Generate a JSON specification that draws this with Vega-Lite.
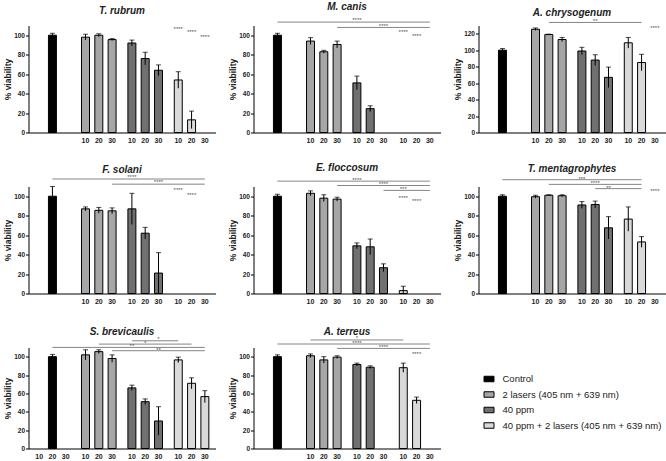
{
"$schema": "https://vega.github.io/schema/vega-lite/v6.json",
"padding": {"left": 3.5, "top": 1.5, "right": 0, "bottom": 0},
"bounds": "flush",
"columns": 3,
"spacing": {"row": 54, "column": 38},
"datasets": {
"bars": [
{"p":"Tr","g":"C","d":20,"v":100,"lo":98,"hi":102},
{"p":"Tr","g":"L","d":10,"v":98,"lo":95,"hi":101},
{"p":"Tr","g":"L","d":20,"v":100,"lo":98.5,"hi":101.5},
{"p":"Tr","g":"L","d":30,"v":95.5,"lo":94.5,"hi":96.5},
{"p":"Tr","g":"P","d":10,"v":92,"lo":89,"hi":95},
{"p":"Tr","g":"P","d":20,"v":76,"lo":69.5,"hi":82.5},
{"p":"Tr","g":"P","d":30,"v":64,"lo":58.5,"hi":69.5},
{"p":"Tr","g":"LP","d":10,"v":54,"lo":45.5,"hi":62.5},
{"p":"Tr","g":"LP","d":20,"v":13,"lo":4,"hi":22},
{"p":"Mc","g":"C","d":20,"v":100,"lo":98,"hi":102},
{"p":"Mc","g":"L","d":10,"v":94,"lo":90.5,"hi":97.5},
{"p":"Mc","g":"L","d":20,"v":83,"lo":81.5,"hi":84.5},
{"p":"Mc","g":"L","d":30,"v":90.5,"lo":87,"hi":94},
{"p":"Mc","g":"P","d":10,"v":51,"lo":44,"hi":58},
{"p":"Mc","g":"P","d":20,"v":24.5,"lo":21.5,"hi":27.5},
{"p":"Ac","g":"C","d":20,"v":100,"lo":98,"hi":102},
{"p":"Ac","g":"L","d":10,"v":125.5,"lo":124,"hi":127},
{"p":"Ac","g":"L","d":20,"v":119,"lo":118.5,"hi":119.5},
{"p":"Ac","g":"L","d":30,"v":113,"lo":110.5,"hi":115.5},
{"p":"Ac","g":"P","d":10,"v":99,"lo":94.5,"hi":103.5},
{"p":"Ac","g":"P","d":20,"v":88,"lo":81.5,"hi":94.5},
{"p":"Ac","g":"P","d":30,"v":67,"lo":54.5,"hi":79.5},
{"p":"Ac","g":"LP","d":10,"v":109,"lo":102.5,"hi":115.5},
{"p":"Ac","g":"LP","d":20,"v":85,"lo":75,"hi":95},
{"p":"Fs","g":"C","d":20,"v":100,"lo":90,"hi":110},
{"p":"Fs","g":"L","d":10,"v":87,"lo":85,"hi":89},
{"p":"Fs","g":"L","d":20,"v":85.5,"lo":82.5,"hi":88.5},
{"p":"Fs","g":"L","d":30,"v":85,"lo":82,"hi":88},
{"p":"Fs","g":"P","d":10,"v":87,"lo":71,"hi":103},
{"p":"Fs","g":"P","d":20,"v":62,"lo":56,"hi":68},
{"p":"Fs","g":"P","d":30,"v":21,"lo":0,"hi":42},
{"p":"Ef","g":"C","d":20,"v":100,"lo":98,"hi":102},
{"p":"Ef","g":"L","d":10,"v":103,"lo":100.5,"hi":105.5},
{"p":"Ef","g":"L","d":20,"v":98,"lo":94.5,"hi":101.5},
{"p":"Ef","g":"L","d":30,"v":97,"lo":95,"hi":99},
{"p":"Ef","g":"P","d":10,"v":49,"lo":46,"hi":52},
{"p":"Ef","g":"P","d":20,"v":48,"lo":40,"hi":56},
{"p":"Ef","g":"P","d":30,"v":26.5,"lo":22.5,"hi":30.5},
{"p":"Ef","g":"LP","d":10,"v":3,"lo":0,"hi":7.5},
{"p":"Tm","g":"C","d":20,"v":100,"lo":98.5,"hi":101.5},
{"p":"Tm","g":"L","d":10,"v":99.5,"lo":98,"hi":101},
{"p":"Tm","g":"L","d":20,"v":101,"lo":100.5,"hi":101.5},
{"p":"Tm","g":"L","d":30,"v":100.5,"lo":99.5,"hi":101.5},
{"p":"Tm","g":"P","d":10,"v":91,"lo":87.5,"hi":94.5},
{"p":"Tm","g":"P","d":20,"v":91.5,"lo":88,"hi":95},
{"p":"Tm","g":"P","d":30,"v":67.5,"lo":56,"hi":79},
{"p":"Tm","g":"LP","d":10,"v":76.5,"lo":64,"hi":89},
{"p":"Tm","g":"LP","d":20,"v":53,"lo":47.5,"hi":58.5},
{"p":"Sb","g":"C","d":20,"v":100,"lo":97.5,"hi":102.5},
{"p":"Sb","g":"L","d":10,"v":102,"lo":96.5,"hi":107.5},
{"p":"Sb","g":"L","d":20,"v":105.5,"lo":103.5,"hi":107.5},
{"p":"Sb","g":"L","d":30,"v":98,"lo":94,"hi":102},
{"p":"Sb","g":"P","d":10,"v":66,"lo":63,"hi":69},
{"p":"Sb","g":"P","d":20,"v":51,"lo":48,"hi":54},
{"p":"Sb","g":"P","d":30,"v":30,"lo":14.5,"hi":45.5},
{"p":"Sb","g":"LP","d":10,"v":96.5,"lo":93.5,"hi":99.5},
{"p":"Sb","g":"LP","d":20,"v":71,"lo":65,"hi":77},
{"p":"Sb","g":"LP","d":30,"v":56.5,"lo":50,"hi":63},
{"p":"At","g":"C","d":20,"v":100,"lo":98,"hi":102},
{"p":"At","g":"L","d":10,"v":101,"lo":99,"hi":103},
{"p":"At","g":"L","d":20,"v":96.5,"lo":93,"hi":100},
{"p":"At","g":"L","d":30,"v":99.5,"lo":98,"hi":101},
{"p":"At","g":"P","d":10,"v":91.5,"lo":90,"hi":93},
{"p":"At","g":"P","d":20,"v":88.5,"lo":87,"hi":90},
{"p":"At","g":"LP","d":10,"v":88,"lo":83,"hi":93},
{"p":"At","g":"LP","d":20,"v":52.5,"lo":49,"hi":56}
],
"sig": [
{"p":"Mc","id":"a","g":"C","d":20,"y":113.5},{"p":"Mc","id":"a","g":"LP","d":30,"y":113.5},
{"p":"Mc","id":"b","g":"L","d":30,"y":108},{"p":"Mc","id":"b","g":"LP","d":30,"y":108},
{"p":"Ac","id":"a","g":"L","d":20,"y":133.7},{"p":"Ac","id":"a","g":"LP","d":20,"y":133.7},
{"p":"Fs","id":"a","g":"C","d":20,"y":117.7},{"p":"Fs","id":"a","g":"LP","d":30,"y":117.7},
{"p":"Fs","id":"b","g":"L","d":30,"y":112.4},{"p":"Fs","id":"b","g":"LP","d":30,"y":112.4},
{"p":"Ef","id":"a","g":"C","d":20,"y":115.5},{"p":"Ef","id":"a","g":"LP","d":30,"y":115.5},
{"p":"Ef","id":"b","g":"L","d":30,"y":111},{"p":"Ef","id":"b","g":"LP","d":30,"y":111},
{"p":"Ef","id":"c","g":"P","d":30,"y":106},{"p":"Ef","id":"c","g":"LP","d":30,"y":106},
{"p":"Tm","id":"a","g":"C","d":20,"y":117},{"p":"Tm","id":"a","g":"LP","d":20,"y":117},
{"p":"Tm","id":"b","g":"L","d":20,"y":112.2},{"p":"Tm","id":"b","g":"LP","d":20,"y":112.2},
{"p":"Tm","id":"c","g":"P","d":20,"y":107.8},{"p":"Tm","id":"c","g":"LP","d":20,"y":107.8},
{"p":"Sb","id":"a","g":"P","d":10,"y":117.3},{"p":"Sb","id":"a","g":"LP","d":10,"y":117.3},
{"p":"Sb","id":"b","g":"L","d":20,"y":113.7},{"p":"Sb","id":"b","g":"LP","d":20,"y":113.7},
{"p":"Sb","id":"c","g":"C","d":20,"y":110.1},{"p":"Sb","id":"c","g":"LP","d":30,"y":110.1},
{"p":"Sb","id":"d","g":"L","d":30,"y":106.5},{"p":"Sb","id":"d","g":"LP","d":30,"y":106.5},
{"p":"At","id":"a","g":"L","d":10,"y":118.2},{"p":"At","id":"a","g":"LP","d":10,"y":118.2},
{"p":"At","id":"b","g":"C","d":20,"y":113.8},{"p":"At","id":"b","g":"LP","d":30,"y":113.8},
{"p":"At","id":"c","g":"L","d":30,"y":109},{"p":"At","id":"c","g":"LP","d":30,"y":109}
],
"stars": [
{"p":"Tr","g":"LP","d":10,"y":107,"t":"****"},{"p":"Tr","g":"LP","d":20,"y":104,"t":"****"},{"p":"Tr","g":"LP","d":30,"y":99,"t":"****"},
{"p":"Mc","g":"P","d":10,"y":116.5,"t":"****"},{"p":"Mc","g":"P","d":30,"y":110.5,"t":"****"},{"p":"Mc","g":"LP","d":10,"y":104,"t":"****"},{"p":"Mc","g":"LP","d":20,"y":100,"t":"****"},
{"p":"Ac","g":"P","d":20,"y":136.5,"t":"**"},{"p":"Ac","g":"LP","d":30,"y":127.8,"t":"****"},
{"p":"Fs","g":"P","d":10,"y":121,"t":"****"},{"p":"Fs","g":"P","d":30,"y":115.5,"t":"****"},{"p":"Fs","g":"LP","d":10,"y":107,"t":"****"},{"p":"Fs","g":"LP","d":20,"y":102.8,"t":"****"},
{"p":"Ef","g":"P","d":10,"y":118,"t":"****"},{"p":"Ef","g":"P","d":30,"y":113.5,"t":"****"},{"p":"Ef","g":"LP","d":10,"y":108.5,"t":"***"},{"p":"Ef","g":"LP","d":10,"y":99.3,"t":"****"},{"p":"Ef","g":"LP","d":20,"y":96.6,"t":"****"},
{"p":"Tm","g":"P","d":10,"y":119,"t":"***"},{"p":"Tm","g":"P","d":20,"y":114.6,"t":"****"},{"p":"Tm","g":"P","d":30,"y":110,"t":"**"},{"p":"Tm","g":"LP","d":30,"y":106,"t":"****"},
{"p":"Sb","g":"P","d":30,"y":120,"t":"*"},{"p":"Sb","g":"P","d":20,"y":116,"t":"*"},{"p":"Sb","g":"P","d":10,"y":112.5,"t":"**"},{"p":"Sb","g":"P","d":30,"y":108.5,"t":"**"},
{"p":"At","g":"P","d":10,"y":121,"t":"*"},{"p":"At","g":"P","d":10,"y":116.5,"t":"****"},{"p":"At","g":"P","d":30,"y":111.8,"t":"****"},{"p":"At","g":"LP","d":20,"y":104.4,"t":"****"}
],
"ticks": [
{"g":"L","d":10},{"g":"L","d":20},{"g":"L","d":30},
{"g":"P","d":10},{"g":"P","d":20},{"g":"P","d":30},
{"g":"LP","d":10},{"g":"LP","d":20},{"g":"LP","d":30}
],
"ticksC": [
{"g":"C","d":10},{"g":"C","d":20},{"g":"C","d":30}
]
},
"concat": [
{"width": 187, "height": 107, "title": {"text": "T. rubrum", "offset": 10}, "layer": [
{"data":{"name":"bars"},"transform":[{"filter":"datum.p==='Tr'"}],"mark":{"type":"bar","stroke":"black","strokeWidth":1},"encoding":{"x":{"field":"g","type":"nominal","title":null,"scale":{"domain":["C","L","P","LP"],"paddingInner":0.14,"paddingOuter":0.086},"axis":{"labels":false,"ticks":false,"title":null,"domain":true}},"xOffset":{"field":"d","type":"ordinal","scale":{"domain":[10,20,30],"paddingInner":0.4,"paddingOuter":0.2}},"y":{"field":"v","type":"quantitative","title":"% viability","scale":{"domain":[0,110],"nice":false},"axis":{"values":[0,20,40,60,80,100],"title":"% viability","domain":true,"labels":true,"ticks":true}},"color":{"field":"g","type":"nominal","scale":{"domain":["C","L","P","LP"],"range":["#000000","#a6a6a6","#707070","#d9d9d9"]},"legend":{"title":null,"labelExpr":"datum.value=='C'?'Control':datum.value=='L'?'2 lasers (405 nm + 639 nm)':datum.value=='P'?'40 ppm':'40 ppm + 2 lasers (405 nm + 639 nm)'"}}}},
{"data":{"name":"bars"},"transform":[{"filter":"datum.p==='Tr'"}],"mark":{"type":"rule","color":"black","strokeWidth":1},"encoding":{"x":{"field":"g","type":"nominal","title":null,"scale":{"domain":["C","L","P","LP"],"paddingInner":0.14,"paddingOuter":0.086},"axis":{"labels":false,"ticks":false,"title":null,"domain":true}},"xOffset":{"field":"d","type":"ordinal","scale":{"domain":[10,20,30],"paddingInner":0.4,"paddingOuter":0.2}},"y":{"field":"lo","type":"quantitative","title":"% viability","scale":{"domain":[0,110],"nice":false},"axis":{"values":[0,20,40,60,80,100],"title":"% viability","domain":true,"labels":true,"ticks":true}},"y2":{"field":"hi"}}},
{"data":{"name":"bars"},"transform":[{"filter":"datum.p==='Tr'"}],"mark":{"type":"tick","color":"black","thickness":1,"size":5,"orient":"horizontal"},"encoding":{"x":{"field":"g","type":"nominal","title":null,"scale":{"domain":["C","L","P","LP"],"paddingInner":0.14,"paddingOuter":0.086},"axis":{"labels":false,"ticks":false,"title":null,"domain":true}},"xOffset":{"field":"d","type":"ordinal","scale":{"domain":[10,20,30],"paddingInner":0.4,"paddingOuter":0.2}},"y":{"field":"hi","type":"quantitative","title":"% viability","scale":{"domain":[0,110],"nice":false},"axis":{"values":[0,20,40,60,80,100],"title":"% viability","domain":true,"labels":true,"ticks":true}}}},
{"data":{"name":"stars"},"transform":[{"filter":"datum.p==='Tr'"}],"mark":{"type":"text","fontSize":6,"color":"#555555","baseline":"middle","dy":1},"encoding":{"x":{"field":"g","type":"nominal","title":null,"scale":{"domain":["C","L","P","LP"],"paddingInner":0.14,"paddingOuter":0.086},"axis":{"labels":false,"ticks":false,"title":null,"domain":true}},"xOffset":{"field":"d","type":"ordinal","scale":{"domain":[10,20,30],"paddingInner":0.4,"paddingOuter":0.2}},"y":{"field":"y","type":"quantitative","title":"% viability","scale":{"domain":[0,110],"nice":false},"axis":{"values":[0,20,40,60,80,100],"title":"% viability","domain":true,"labels":true,"ticks":true}},"text":{"field":"t"}}},
{"data":{"name":"ticks"},"mark":{"type":"text","fontSize":7,"fontWeight":"bold","color":"#222222","baseline":"middle"},"encoding":{"x":{"field":"g","type":"nominal","title":null,"scale":{"domain":["C","L","P","LP"],"paddingInner":0.14,"paddingOuter":0.086},"axis":{"labels":false,"ticks":false,"title":null,"domain":true}},"xOffset":{"field":"d","type":"ordinal","scale":{"domain":[10,20,30],"paddingInner":0.4,"paddingOuter":0.2}},"y":{"datum":-9,"type":"quantitative","title":"% viability","scale":{"domain":[0,110],"nice":false},"axis":{"values":[0,20,40,60,80,100],"title":"% viability","domain":true,"labels":true,"ticks":true}},"text":{"field":"d","type":"nominal"}}}
]},
{"width": 187, "height": 107, "title": {"text": "M. canis", "offset": 5}, "layer": [
{"data":{"name":"bars"},"transform":[{"filter":"datum.p==='Mc'"}],"mark":{"type":"bar","stroke":"black","strokeWidth":1},"encoding":{"x":{"field":"g","type":"nominal","title":null,"scale":{"domain":["C","L","P","LP"],"paddingInner":0.14,"paddingOuter":0.086},"axis":{"labels":false,"ticks":false,"title":null,"domain":true}},"xOffset":{"field":"d","type":"ordinal","scale":{"domain":[10,20,30],"paddingInner":0.4,"paddingOuter":0.2}},"y":{"field":"v","type":"quantitative","title":"% viability","scale":{"domain":[0,110],"nice":false},"axis":{"values":[0,20,40,60,80,100],"title":"% viability","domain":true,"labels":true,"ticks":true}},"color":{"field":"g","type":"nominal","scale":{"domain":["C","L","P","LP"],"range":["#000000","#a6a6a6","#707070","#d9d9d9"]},"legend":{"title":null,"labelExpr":"datum.value=='C'?'Control':datum.value=='L'?'2 lasers (405 nm + 639 nm)':datum.value=='P'?'40 ppm':'40 ppm + 2 lasers (405 nm + 639 nm)'"}}}},
{"data":{"name":"bars"},"transform":[{"filter":"datum.p==='Mc'"}],"mark":{"type":"rule","color":"black","strokeWidth":1},"encoding":{"x":{"field":"g","type":"nominal","title":null,"scale":{"domain":["C","L","P","LP"],"paddingInner":0.14,"paddingOuter":0.086},"axis":{"labels":false,"ticks":false,"title":null,"domain":true}},"xOffset":{"field":"d","type":"ordinal","scale":{"domain":[10,20,30],"paddingInner":0.4,"paddingOuter":0.2}},"y":{"field":"lo","type":"quantitative","title":"% viability","scale":{"domain":[0,110],"nice":false},"axis":{"values":[0,20,40,60,80,100],"title":"% viability","domain":true,"labels":true,"ticks":true}},"y2":{"field":"hi"}}},
{"data":{"name":"bars"},"transform":[{"filter":"datum.p==='Mc'"}],"mark":{"type":"tick","color":"black","thickness":1,"size":5,"orient":"horizontal"},"encoding":{"x":{"field":"g","type":"nominal","title":null,"scale":{"domain":["C","L","P","LP"],"paddingInner":0.14,"paddingOuter":0.086},"axis":{"labels":false,"ticks":false,"title":null,"domain":true}},"xOffset":{"field":"d","type":"ordinal","scale":{"domain":[10,20,30],"paddingInner":0.4,"paddingOuter":0.2}},"y":{"field":"hi","type":"quantitative","title":"% viability","scale":{"domain":[0,110],"nice":false},"axis":{"values":[0,20,40,60,80,100],"title":"% viability","domain":true,"labels":true,"ticks":true}}}},
{"data":{"name":"sig"},"transform":[{"filter":"datum.p==='Mc'"}],"mark":{"type":"line","color":"#666666","strokeWidth":0.8},"encoding":{"x":{"field":"g","type":"nominal","title":null,"scale":{"domain":["C","L","P","LP"],"paddingInner":0.14,"paddingOuter":0.086},"axis":{"labels":false,"ticks":false,"title":null,"domain":true}},"xOffset":{"field":"d","type":"ordinal","scale":{"domain":[10,20,30],"paddingInner":0.4,"paddingOuter":0.2}},"y":{"field":"y","type":"quantitative","title":"% viability","scale":{"domain":[0,110],"nice":false},"axis":{"values":[0,20,40,60,80,100],"title":"% viability","domain":true,"labels":true,"ticks":true}},"detail":{"field":"id"}}},
{"data":{"name":"stars"},"transform":[{"filter":"datum.p==='Mc'"}],"mark":{"type":"text","fontSize":6,"color":"#555555","baseline":"middle","dy":1},"encoding":{"x":{"field":"g","type":"nominal","title":null,"scale":{"domain":["C","L","P","LP"],"paddingInner":0.14,"paddingOuter":0.086},"axis":{"labels":false,"ticks":false,"title":null,"domain":true}},"xOffset":{"field":"d","type":"ordinal","scale":{"domain":[10,20,30],"paddingInner":0.4,"paddingOuter":0.2}},"y":{"field":"y","type":"quantitative","title":"% viability","scale":{"domain":[0,110],"nice":false},"axis":{"values":[0,20,40,60,80,100],"title":"% viability","domain":true,"labels":true,"ticks":true}},"text":{"field":"t"}}},
{"data":{"name":"ticks"},"mark":{"type":"text","fontSize":7,"fontWeight":"bold","color":"#222222","baseline":"middle"},"encoding":{"x":{"field":"g","type":"nominal","title":null,"scale":{"domain":["C","L","P","LP"],"paddingInner":0.14,"paddingOuter":0.086},"axis":{"labels":false,"ticks":false,"title":null,"domain":true}},"xOffset":{"field":"d","type":"ordinal","scale":{"domain":[10,20,30],"paddingInner":0.4,"paddingOuter":0.2}},"y":{"datum":-9,"type":"quantitative","title":"% viability","scale":{"domain":[0,110],"nice":false},"axis":{"values":[0,20,40,60,80,100],"title":"% viability","domain":true,"labels":true,"ticks":true}},"text":{"field":"d","type":"nominal"}}}
]},
{"width": 187, "height": 107, "title": {"text": "A. chrysogenum", "offset": 0.5}, "layer": [
{"data":{"name":"bars"},"transform":[{"filter":"datum.p==='Ac'"}],"mark":{"type":"bar","stroke":"black","strokeWidth":1},"encoding":{"x":{"field":"g","type":"nominal","title":null,"scale":{"domain":["C","L","P","LP"],"paddingInner":0.14,"paddingOuter":0.086},"axis":{"labels":false,"ticks":false,"title":null,"domain":true}},"xOffset":{"field":"d","type":"ordinal","scale":{"domain":[10,20,30],"paddingInner":0.4,"paddingOuter":0.2}},"y":{"field":"v","type":"quantitative","title":"% viability","scale":{"domain":[0,130],"nice":false},"axis":{"values":[0,20,40,60,80,100,120],"title":"% viability","domain":true,"labels":true,"ticks":true}},"color":{"field":"g","type":"nominal","scale":{"domain":["C","L","P","LP"],"range":["#000000","#a6a6a6","#707070","#d9d9d9"]},"legend":{"title":null,"labelExpr":"datum.value=='C'?'Control':datum.value=='L'?'2 lasers (405 nm + 639 nm)':datum.value=='P'?'40 ppm':'40 ppm + 2 lasers (405 nm + 639 nm)'"}}}},
{"data":{"name":"bars"},"transform":[{"filter":"datum.p==='Ac'"}],"mark":{"type":"rule","color":"black","strokeWidth":1},"encoding":{"x":{"field":"g","type":"nominal","title":null,"scale":{"domain":["C","L","P","LP"],"paddingInner":0.14,"paddingOuter":0.086},"axis":{"labels":false,"ticks":false,"title":null,"domain":true}},"xOffset":{"field":"d","type":"ordinal","scale":{"domain":[10,20,30],"paddingInner":0.4,"paddingOuter":0.2}},"y":{"field":"lo","type":"quantitative","title":"% viability","scale":{"domain":[0,130],"nice":false},"axis":{"values":[0,20,40,60,80,100,120],"title":"% viability","domain":true,"labels":true,"ticks":true}},"y2":{"field":"hi"}}},
{"data":{"name":"bars"},"transform":[{"filter":"datum.p==='Ac'"}],"mark":{"type":"tick","color":"black","thickness":1,"size":5,"orient":"horizontal"},"encoding":{"x":{"field":"g","type":"nominal","title":null,"scale":{"domain":["C","L","P","LP"],"paddingInner":0.14,"paddingOuter":0.086},"axis":{"labels":false,"ticks":false,"title":null,"domain":true}},"xOffset":{"field":"d","type":"ordinal","scale":{"domain":[10,20,30],"paddingInner":0.4,"paddingOuter":0.2}},"y":{"field":"hi","type":"quantitative","title":"% viability","scale":{"domain":[0,130],"nice":false},"axis":{"values":[0,20,40,60,80,100,120],"title":"% viability","domain":true,"labels":true,"ticks":true}}}},
{"data":{"name":"sig"},"transform":[{"filter":"datum.p==='Ac'"}],"mark":{"type":"line","color":"#666666","strokeWidth":0.8},"encoding":{"x":{"field":"g","type":"nominal","title":null,"scale":{"domain":["C","L","P","LP"],"paddingInner":0.14,"paddingOuter":0.086},"axis":{"labels":false,"ticks":false,"title":null,"domain":true}},"xOffset":{"field":"d","type":"ordinal","scale":{"domain":[10,20,30],"paddingInner":0.4,"paddingOuter":0.2}},"y":{"field":"y","type":"quantitative","title":"% viability","scale":{"domain":[0,130],"nice":false},"axis":{"values":[0,20,40,60,80,100,120],"title":"% viability","domain":true,"labels":true,"ticks":true}},"detail":{"field":"id"}}},
{"data":{"name":"stars"},"transform":[{"filter":"datum.p==='Ac'"}],"mark":{"type":"text","fontSize":6,"color":"#555555","baseline":"middle","dy":1},"encoding":{"x":{"field":"g","type":"nominal","title":null,"scale":{"domain":["C","L","P","LP"],"paddingInner":0.14,"paddingOuter":0.086},"axis":{"labels":false,"ticks":false,"title":null,"domain":true}},"xOffset":{"field":"d","type":"ordinal","scale":{"domain":[10,20,30],"paddingInner":0.4,"paddingOuter":0.2}},"y":{"field":"y","type":"quantitative","title":"% viability","scale":{"domain":[0,130],"nice":false},"axis":{"values":[0,20,40,60,80,100,120],"title":"% viability","domain":true,"labels":true,"ticks":true}},"text":{"field":"t"}}},
{"data":{"name":"ticks"},"mark":{"type":"text","fontSize":7,"fontWeight":"bold","color":"#222222","baseline":"middle"},"encoding":{"x":{"field":"g","type":"nominal","title":null,"scale":{"domain":["C","L","P","LP"],"paddingInner":0.14,"paddingOuter":0.086},"axis":{"labels":false,"ticks":false,"title":null,"domain":true}},"xOffset":{"field":"d","type":"ordinal","scale":{"domain":[10,20,30],"paddingInner":0.4,"paddingOuter":0.2}},"y":{"datum":-10.5,"type":"quantitative","title":"% viability","scale":{"domain":[0,130],"nice":false},"axis":{"values":[0,20,40,60,80,100,120],"title":"% viability","domain":true,"labels":true,"ticks":true}},"text":{"field":"d","type":"nominal"}}}
]},
{"width": 187, "height": 107, "title": {"text": "F. solani", "offset": -1.5}, "layer": [
{"data":{"name":"bars"},"transform":[{"filter":"datum.p==='Fs'"}],"mark":{"type":"bar","stroke":"black","strokeWidth":1},"encoding":{"x":{"field":"g","type":"nominal","title":null,"scale":{"domain":["C","L","P","LP"],"paddingInner":0.14,"paddingOuter":0.086},"axis":{"labels":false,"ticks":false,"title":null,"domain":true}},"xOffset":{"field":"d","type":"ordinal","scale":{"domain":[10,20,30],"paddingInner":0.4,"paddingOuter":0.2}},"y":{"field":"v","type":"quantitative","title":"% viability","scale":{"domain":[0,110],"nice":false},"axis":{"values":[0,20,40,60,80,100],"title":"% viability","domain":true,"labels":true,"ticks":true}},"color":{"field":"g","type":"nominal","scale":{"domain":["C","L","P","LP"],"range":["#000000","#a6a6a6","#707070","#d9d9d9"]},"legend":{"title":null,"labelExpr":"datum.value=='C'?'Control':datum.value=='L'?'2 lasers (405 nm + 639 nm)':datum.value=='P'?'40 ppm':'40 ppm + 2 lasers (405 nm + 639 nm)'"}}}},
{"data":{"name":"bars"},"transform":[{"filter":"datum.p==='Fs'"}],"mark":{"type":"rule","color":"black","strokeWidth":1},"encoding":{"x":{"field":"g","type":"nominal","title":null,"scale":{"domain":["C","L","P","LP"],"paddingInner":0.14,"paddingOuter":0.086},"axis":{"labels":false,"ticks":false,"title":null,"domain":true}},"xOffset":{"field":"d","type":"ordinal","scale":{"domain":[10,20,30],"paddingInner":0.4,"paddingOuter":0.2}},"y":{"field":"lo","type":"quantitative","title":"% viability","scale":{"domain":[0,110],"nice":false},"axis":{"values":[0,20,40,60,80,100],"title":"% viability","domain":true,"labels":true,"ticks":true}},"y2":{"field":"hi"}}},
{"data":{"name":"bars"},"transform":[{"filter":"datum.p==='Fs'"}],"mark":{"type":"tick","color":"black","thickness":1,"size":5,"orient":"horizontal"},"encoding":{"x":{"field":"g","type":"nominal","title":null,"scale":{"domain":["C","L","P","LP"],"paddingInner":0.14,"paddingOuter":0.086},"axis":{"labels":false,"ticks":false,"title":null,"domain":true}},"xOffset":{"field":"d","type":"ordinal","scale":{"domain":[10,20,30],"paddingInner":0.4,"paddingOuter":0.2}},"y":{"field":"hi","type":"quantitative","title":"% viability","scale":{"domain":[0,110],"nice":false},"axis":{"values":[0,20,40,60,80,100],"title":"% viability","domain":true,"labels":true,"ticks":true}}}},
{"data":{"name":"sig"},"transform":[{"filter":"datum.p==='Fs'"}],"mark":{"type":"line","color":"#666666","strokeWidth":0.8},"encoding":{"x":{"field":"g","type":"nominal","title":null,"scale":{"domain":["C","L","P","LP"],"paddingInner":0.14,"paddingOuter":0.086},"axis":{"labels":false,"ticks":false,"title":null,"domain":true}},"xOffset":{"field":"d","type":"ordinal","scale":{"domain":[10,20,30],"paddingInner":0.4,"paddingOuter":0.2}},"y":{"field":"y","type":"quantitative","title":"% viability","scale":{"domain":[0,110],"nice":false},"axis":{"values":[0,20,40,60,80,100],"title":"% viability","domain":true,"labels":true,"ticks":true}},"detail":{"field":"id"}}},
{"data":{"name":"stars"},"transform":[{"filter":"datum.p==='Fs'"}],"mark":{"type":"text","fontSize":6,"color":"#555555","baseline":"middle","dy":1},"encoding":{"x":{"field":"g","type":"nominal","title":null,"scale":{"domain":["C","L","P","LP"],"paddingInner":0.14,"paddingOuter":0.086},"axis":{"labels":false,"ticks":false,"title":null,"domain":true}},"xOffset":{"field":"d","type":"ordinal","scale":{"domain":[10,20,30],"paddingInner":0.4,"paddingOuter":0.2}},"y":{"field":"y","type":"quantitative","title":"% viability","scale":{"domain":[0,110],"nice":false},"axis":{"values":[0,20,40,60,80,100],"title":"% viability","domain":true,"labels":true,"ticks":true}},"text":{"field":"t"}}},
{"data":{"name":"ticks"},"mark":{"type":"text","fontSize":7,"fontWeight":"bold","color":"#222222","baseline":"middle"},"encoding":{"x":{"field":"g","type":"nominal","title":null,"scale":{"domain":["C","L","P","LP"],"paddingInner":0.14,"paddingOuter":0.086},"axis":{"labels":false,"ticks":false,"title":null,"domain":true}},"xOffset":{"field":"d","type":"ordinal","scale":{"domain":[10,20,30],"paddingInner":0.4,"paddingOuter":0.2}},"y":{"datum":-9,"type":"quantitative","title":"% viability","scale":{"domain":[0,110],"nice":false},"axis":{"values":[0,20,40,60,80,100],"title":"% viability","domain":true,"labels":true,"ticks":true}},"text":{"field":"d","type":"nominal"}}}
]},
{"width": 187, "height": 107, "title": {"text": "E. floccosum", "offset": 3.5}, "layer": [
{"data":{"name":"bars"},"transform":[{"filter":"datum.p==='Ef'"}],"mark":{"type":"bar","stroke":"black","strokeWidth":1},"encoding":{"x":{"field":"g","type":"nominal","title":null,"scale":{"domain":["C","L","P","LP"],"paddingInner":0.14,"paddingOuter":0.086},"axis":{"labels":false,"ticks":false,"title":null,"domain":true}},"xOffset":{"field":"d","type":"ordinal","scale":{"domain":[10,20,30],"paddingInner":0.4,"paddingOuter":0.2}},"y":{"field":"v","type":"quantitative","title":"% viability","scale":{"domain":[0,110],"nice":false},"axis":{"values":[0,20,40,60,80,100],"title":"% viability","domain":true,"labels":true,"ticks":true}},"color":{"field":"g","type":"nominal","scale":{"domain":["C","L","P","LP"],"range":["#000000","#a6a6a6","#707070","#d9d9d9"]},"legend":{"title":null,"labelExpr":"datum.value=='C'?'Control':datum.value=='L'?'2 lasers (405 nm + 639 nm)':datum.value=='P'?'40 ppm':'40 ppm + 2 lasers (405 nm + 639 nm)'"}}}},
{"data":{"name":"bars"},"transform":[{"filter":"datum.p==='Ef'"}],"mark":{"type":"rule","color":"black","strokeWidth":1},"encoding":{"x":{"field":"g","type":"nominal","title":null,"scale":{"domain":["C","L","P","LP"],"paddingInner":0.14,"paddingOuter":0.086},"axis":{"labels":false,"ticks":false,"title":null,"domain":true}},"xOffset":{"field":"d","type":"ordinal","scale":{"domain":[10,20,30],"paddingInner":0.4,"paddingOuter":0.2}},"y":{"field":"lo","type":"quantitative","title":"% viability","scale":{"domain":[0,110],"nice":false},"axis":{"values":[0,20,40,60,80,100],"title":"% viability","domain":true,"labels":true,"ticks":true}},"y2":{"field":"hi"}}},
{"data":{"name":"bars"},"transform":[{"filter":"datum.p==='Ef'"}],"mark":{"type":"tick","color":"black","thickness":1,"size":5,"orient":"horizontal"},"encoding":{"x":{"field":"g","type":"nominal","title":null,"scale":{"domain":["C","L","P","LP"],"paddingInner":0.14,"paddingOuter":0.086},"axis":{"labels":false,"ticks":false,"title":null,"domain":true}},"xOffset":{"field":"d","type":"ordinal","scale":{"domain":[10,20,30],"paddingInner":0.4,"paddingOuter":0.2}},"y":{"field":"hi","type":"quantitative","title":"% viability","scale":{"domain":[0,110],"nice":false},"axis":{"values":[0,20,40,60,80,100],"title":"% viability","domain":true,"labels":true,"ticks":true}}}},
{"data":{"name":"sig"},"transform":[{"filter":"datum.p==='Ef'"}],"mark":{"type":"line","color":"#666666","strokeWidth":0.8},"encoding":{"x":{"field":"g","type":"nominal","title":null,"scale":{"domain":["C","L","P","LP"],"paddingInner":0.14,"paddingOuter":0.086},"axis":{"labels":false,"ticks":false,"title":null,"domain":true}},"xOffset":{"field":"d","type":"ordinal","scale":{"domain":[10,20,30],"paddingInner":0.4,"paddingOuter":0.2}},"y":{"field":"y","type":"quantitative","title":"% viability","scale":{"domain":[0,110],"nice":false},"axis":{"values":[0,20,40,60,80,100],"title":"% viability","domain":true,"labels":true,"ticks":true}},"detail":{"field":"id"}}},
{"data":{"name":"stars"},"transform":[{"filter":"datum.p==='Ef'"}],"mark":{"type":"text","fontSize":6,"color":"#555555","baseline":"middle","dy":1},"encoding":{"x":{"field":"g","type":"nominal","title":null,"scale":{"domain":["C","L","P","LP"],"paddingInner":0.14,"paddingOuter":0.086},"axis":{"labels":false,"ticks":false,"title":null,"domain":true}},"xOffset":{"field":"d","type":"ordinal","scale":{"domain":[10,20,30],"paddingInner":0.4,"paddingOuter":0.2}},"y":{"field":"y","type":"quantitative","title":"% viability","scale":{"domain":[0,110],"nice":false},"axis":{"values":[0,20,40,60,80,100],"title":"% viability","domain":true,"labels":true,"ticks":true}},"text":{"field":"t"}}},
{"data":{"name":"ticks"},"mark":{"type":"text","fontSize":7,"fontWeight":"bold","color":"#222222","baseline":"middle"},"encoding":{"x":{"field":"g","type":"nominal","title":null,"scale":{"domain":["C","L","P","LP"],"paddingInner":0.14,"paddingOuter":0.086},"axis":{"labels":false,"ticks":false,"title":null,"domain":true}},"xOffset":{"field":"d","type":"ordinal","scale":{"domain":[10,20,30],"paddingInner":0.4,"paddingOuter":0.2}},"y":{"datum":-9,"type":"quantitative","title":"% viability","scale":{"domain":[0,110],"nice":false},"axis":{"values":[0,20,40,60,80,100],"title":"% viability","domain":true,"labels":true,"ticks":true}},"text":{"field":"d","type":"nominal"}}}
]},
{"width": 187, "height": 107, "title": {"text": "T. mentagrophytes", "offset": 2}, "layer": [
{"data":{"name":"bars"},"transform":[{"filter":"datum.p==='Tm'"}],"mark":{"type":"bar","stroke":"black","strokeWidth":1},"encoding":{"x":{"field":"g","type":"nominal","title":null,"scale":{"domain":["C","L","P","LP"],"paddingInner":0.14,"paddingOuter":0.086},"axis":{"labels":false,"ticks":false,"title":null,"domain":true}},"xOffset":{"field":"d","type":"ordinal","scale":{"domain":[10,20,30],"paddingInner":0.4,"paddingOuter":0.2}},"y":{"field":"v","type":"quantitative","title":"% viability","scale":{"domain":[0,110],"nice":false},"axis":{"values":[0,20,40,60,80,100],"title":"% viability","domain":true,"labels":true,"ticks":true}},"color":{"field":"g","type":"nominal","scale":{"domain":["C","L","P","LP"],"range":["#000000","#a6a6a6","#707070","#d9d9d9"]},"legend":{"title":null,"labelExpr":"datum.value=='C'?'Control':datum.value=='L'?'2 lasers (405 nm + 639 nm)':datum.value=='P'?'40 ppm':'40 ppm + 2 lasers (405 nm + 639 nm)'"}}}},
{"data":{"name":"bars"},"transform":[{"filter":"datum.p==='Tm'"}],"mark":{"type":"rule","color":"black","strokeWidth":1},"encoding":{"x":{"field":"g","type":"nominal","title":null,"scale":{"domain":["C","L","P","LP"],"paddingInner":0.14,"paddingOuter":0.086},"axis":{"labels":false,"ticks":false,"title":null,"domain":true}},"xOffset":{"field":"d","type":"ordinal","scale":{"domain":[10,20,30],"paddingInner":0.4,"paddingOuter":0.2}},"y":{"field":"lo","type":"quantitative","title":"% viability","scale":{"domain":[0,110],"nice":false},"axis":{"values":[0,20,40,60,80,100],"title":"% viability","domain":true,"labels":true,"ticks":true}},"y2":{"field":"hi"}}},
{"data":{"name":"bars"},"transform":[{"filter":"datum.p==='Tm'"}],"mark":{"type":"tick","color":"black","thickness":1,"size":5,"orient":"horizontal"},"encoding":{"x":{"field":"g","type":"nominal","title":null,"scale":{"domain":["C","L","P","LP"],"paddingInner":0.14,"paddingOuter":0.086},"axis":{"labels":false,"ticks":false,"title":null,"domain":true}},"xOffset":{"field":"d","type":"ordinal","scale":{"domain":[10,20,30],"paddingInner":0.4,"paddingOuter":0.2}},"y":{"field":"hi","type":"quantitative","title":"% viability","scale":{"domain":[0,110],"nice":false},"axis":{"values":[0,20,40,60,80,100],"title":"% viability","domain":true,"labels":true,"ticks":true}}}},
{"data":{"name":"sig"},"transform":[{"filter":"datum.p==='Tm'"}],"mark":{"type":"line","color":"#666666","strokeWidth":0.8},"encoding":{"x":{"field":"g","type":"nominal","title":null,"scale":{"domain":["C","L","P","LP"],"paddingInner":0.14,"paddingOuter":0.086},"axis":{"labels":false,"ticks":false,"title":null,"domain":true}},"xOffset":{"field":"d","type":"ordinal","scale":{"domain":[10,20,30],"paddingInner":0.4,"paddingOuter":0.2}},"y":{"field":"y","type":"quantitative","title":"% viability","scale":{"domain":[0,110],"nice":false},"axis":{"values":[0,20,40,60,80,100],"title":"% viability","domain":true,"labels":true,"ticks":true}},"detail":{"field":"id"}}},
{"data":{"name":"stars"},"transform":[{"filter":"datum.p==='Tm'"}],"mark":{"type":"text","fontSize":6,"color":"#555555","baseline":"middle","dy":1},"encoding":{"x":{"field":"g","type":"nominal","title":null,"scale":{"domain":["C","L","P","LP"],"paddingInner":0.14,"paddingOuter":0.086},"axis":{"labels":false,"ticks":false,"title":null,"domain":true}},"xOffset":{"field":"d","type":"ordinal","scale":{"domain":[10,20,30],"paddingInner":0.4,"paddingOuter":0.2}},"y":{"field":"y","type":"quantitative","title":"% viability","scale":{"domain":[0,110],"nice":false},"axis":{"values":[0,20,40,60,80,100],"title":"% viability","domain":true,"labels":true,"ticks":true}},"text":{"field":"t"}}},
{"data":{"name":"ticks"},"mark":{"type":"text","fontSize":7,"fontWeight":"bold","color":"#222222","baseline":"middle"},"encoding":{"x":{"field":"g","type":"nominal","title":null,"scale":{"domain":["C","L","P","LP"],"paddingInner":0.14,"paddingOuter":0.086},"axis":{"labels":false,"ticks":false,"title":null,"domain":true}},"xOffset":{"field":"d","type":"ordinal","scale":{"domain":[10,20,30],"paddingInner":0.4,"paddingOuter":0.2}},"y":{"datum":-9,"type":"quantitative","title":"% viability","scale":{"domain":[0,110],"nice":false},"axis":{"values":[0,20,40,60,80,100],"title":"% viability","domain":true,"labels":true,"ticks":true}},"text":{"field":"d","type":"nominal"}}}
]},
{"width": 187, "height": 101, "title": {"text": "S. brevicaulis", "offset": -0.5}, "layer": [
{"data":{"name":"bars"},"transform":[{"filter":"datum.p==='Sb'"}],"mark":{"type":"bar","stroke":"black","strokeWidth":1},"encoding":{"x":{"field":"g","type":"nominal","title":null,"scale":{"domain":["C","L","P","LP"],"paddingInner":0.14,"paddingOuter":0.086},"axis":{"labels":false,"ticks":false,"title":null,"domain":true}},"xOffset":{"field":"d","type":"ordinal","scale":{"domain":[10,20,30],"paddingInner":0.4,"paddingOuter":0.2}},"y":{"field":"v","type":"quantitative","title":"% viability","scale":{"domain":[0,110],"nice":false},"axis":{"values":[0,20,40,60,80,100],"title":"% viability","domain":true,"labels":true,"ticks":true}},"color":{"field":"g","type":"nominal","scale":{"domain":["C","L","P","LP"],"range":["#000000","#a6a6a6","#707070","#d9d9d9"]},"legend":{"title":null,"labelExpr":"datum.value=='C'?'Control':datum.value=='L'?'2 lasers (405 nm + 639 nm)':datum.value=='P'?'40 ppm':'40 ppm + 2 lasers (405 nm + 639 nm)'"}}}},
{"data":{"name":"bars"},"transform":[{"filter":"datum.p==='Sb'"}],"mark":{"type":"rule","color":"black","strokeWidth":1},"encoding":{"x":{"field":"g","type":"nominal","title":null,"scale":{"domain":["C","L","P","LP"],"paddingInner":0.14,"paddingOuter":0.086},"axis":{"labels":false,"ticks":false,"title":null,"domain":true}},"xOffset":{"field":"d","type":"ordinal","scale":{"domain":[10,20,30],"paddingInner":0.4,"paddingOuter":0.2}},"y":{"field":"lo","type":"quantitative","title":"% viability","scale":{"domain":[0,110],"nice":false},"axis":{"values":[0,20,40,60,80,100],"title":"% viability","domain":true,"labels":true,"ticks":true}},"y2":{"field":"hi"}}},
{"data":{"name":"bars"},"transform":[{"filter":"datum.p==='Sb'"}],"mark":{"type":"tick","color":"black","thickness":1,"size":5,"orient":"horizontal"},"encoding":{"x":{"field":"g","type":"nominal","title":null,"scale":{"domain":["C","L","P","LP"],"paddingInner":0.14,"paddingOuter":0.086},"axis":{"labels":false,"ticks":false,"title":null,"domain":true}},"xOffset":{"field":"d","type":"ordinal","scale":{"domain":[10,20,30],"paddingInner":0.4,"paddingOuter":0.2}},"y":{"field":"hi","type":"quantitative","title":"% viability","scale":{"domain":[0,110],"nice":false},"axis":{"values":[0,20,40,60,80,100],"title":"% viability","domain":true,"labels":true,"ticks":true}}}},
{"data":{"name":"sig"},"transform":[{"filter":"datum.p==='Sb'"}],"mark":{"type":"line","color":"#666666","strokeWidth":0.8},"encoding":{"x":{"field":"g","type":"nominal","title":null,"scale":{"domain":["C","L","P","LP"],"paddingInner":0.14,"paddingOuter":0.086},"axis":{"labels":false,"ticks":false,"title":null,"domain":true}},"xOffset":{"field":"d","type":"ordinal","scale":{"domain":[10,20,30],"paddingInner":0.4,"paddingOuter":0.2}},"y":{"field":"y","type":"quantitative","title":"% viability","scale":{"domain":[0,110],"nice":false},"axis":{"values":[0,20,40,60,80,100],"title":"% viability","domain":true,"labels":true,"ticks":true}},"detail":{"field":"id"}}},
{"data":{"name":"stars"},"transform":[{"filter":"datum.p==='Sb'"}],"mark":{"type":"text","fontSize":6,"color":"#555555","baseline":"middle","dy":1},"encoding":{"x":{"field":"g","type":"nominal","title":null,"scale":{"domain":["C","L","P","LP"],"paddingInner":0.14,"paddingOuter":0.086},"axis":{"labels":false,"ticks":false,"title":null,"domain":true}},"xOffset":{"field":"d","type":"ordinal","scale":{"domain":[10,20,30],"paddingInner":0.4,"paddingOuter":0.2}},"y":{"field":"y","type":"quantitative","title":"% viability","scale":{"domain":[0,110],"nice":false},"axis":{"values":[0,20,40,60,80,100],"title":"% viability","domain":true,"labels":true,"ticks":true}},"text":{"field":"t"}}},
{"data":{"name":"ticks"},"mark":{"type":"text","fontSize":7,"fontWeight":"bold","color":"#222222","baseline":"middle"},"encoding":{"x":{"field":"g","type":"nominal","title":null,"scale":{"domain":["C","L","P","LP"],"paddingInner":0.14,"paddingOuter":0.086},"axis":{"labels":false,"ticks":false,"title":null,"domain":true}},"xOffset":{"field":"d","type":"ordinal","scale":{"domain":[10,20,30],"paddingInner":0.4,"paddingOuter":0.2}},"y":{"datum":-9.5,"type":"quantitative","title":"% viability","scale":{"domain":[0,110],"nice":false},"axis":{"values":[0,20,40,60,80,100],"title":"% viability","domain":true,"labels":true,"ticks":true}},"text":{"field":"d","type":"nominal"}}},
{"data":{"name":"ticksC"},"mark":{"type":"text","fontSize":7,"fontWeight":"bold","color":"#222222","baseline":"middle"},"encoding":{"x":{"field":"g","type":"nominal","title":null,"scale":{"domain":["C","L","P","LP"],"paddingInner":0.14,"paddingOuter":0.086},"axis":{"labels":false,"ticks":false,"title":null,"domain":true}},"xOffset":{"field":"d","type":"ordinal","scale":{"domain":[10,20,30],"paddingInner":0.4,"paddingOuter":0.2}},"y":{"datum":-9.5,"type":"quantitative","title":"% viability","scale":{"domain":[0,110],"nice":false},"axis":{"values":[0,20,40,60,80,100],"title":"% viability","domain":true,"labels":true,"ticks":true}},"text":{"field":"d","type":"nominal"}}}
]},
{"width": 187, "height": 101, "title": {"text": "A. terreus", "offset": -1.5}, "layer": [
{"data":{"name":"bars"},"transform":[{"filter":"datum.p==='At'"}],"mark":{"type":"bar","stroke":"black","strokeWidth":1},"encoding":{"x":{"field":"g","type":"nominal","title":null,"scale":{"domain":["C","L","P","LP"],"paddingInner":0.14,"paddingOuter":0.086},"axis":{"labels":false,"ticks":false,"title":null,"domain":true}},"xOffset":{"field":"d","type":"ordinal","scale":{"domain":[10,20,30],"paddingInner":0.4,"paddingOuter":0.2}},"y":{"field":"v","type":"quantitative","title":"% viability","scale":{"domain":[0,110],"nice":false},"axis":{"values":[0,20,40,60,80,100],"title":"% viability","domain":true,"labels":true,"ticks":true}},"color":{"field":"g","type":"nominal","scale":{"domain":["C","L","P","LP"],"range":["#000000","#a6a6a6","#707070","#d9d9d9"]},"legend":{"title":null,"labelExpr":"datum.value=='C'?'Control':datum.value=='L'?'2 lasers (405 nm + 639 nm)':datum.value=='P'?'40 ppm':'40 ppm + 2 lasers (405 nm + 639 nm)'"}}}},
{"data":{"name":"bars"},"transform":[{"filter":"datum.p==='At'"}],"mark":{"type":"rule","color":"black","strokeWidth":1},"encoding":{"x":{"field":"g","type":"nominal","title":null,"scale":{"domain":["C","L","P","LP"],"paddingInner":0.14,"paddingOuter":0.086},"axis":{"labels":false,"ticks":false,"title":null,"domain":true}},"xOffset":{"field":"d","type":"ordinal","scale":{"domain":[10,20,30],"paddingInner":0.4,"paddingOuter":0.2}},"y":{"field":"lo","type":"quantitative","title":"% viability","scale":{"domain":[0,110],"nice":false},"axis":{"values":[0,20,40,60,80,100],"title":"% viability","domain":true,"labels":true,"ticks":true}},"y2":{"field":"hi"}}},
{"data":{"name":"bars"},"transform":[{"filter":"datum.p==='At'"}],"mark":{"type":"tick","color":"black","thickness":1,"size":5,"orient":"horizontal"},"encoding":{"x":{"field":"g","type":"nominal","title":null,"scale":{"domain":["C","L","P","LP"],"paddingInner":0.14,"paddingOuter":0.086},"axis":{"labels":false,"ticks":false,"title":null,"domain":true}},"xOffset":{"field":"d","type":"ordinal","scale":{"domain":[10,20,30],"paddingInner":0.4,"paddingOuter":0.2}},"y":{"field":"hi","type":"quantitative","title":"% viability","scale":{"domain":[0,110],"nice":false},"axis":{"values":[0,20,40,60,80,100],"title":"% viability","domain":true,"labels":true,"ticks":true}}}},
{"data":{"name":"sig"},"transform":[{"filter":"datum.p==='At'"}],"mark":{"type":"line","color":"#666666","strokeWidth":0.8},"encoding":{"x":{"field":"g","type":"nominal","title":null,"scale":{"domain":["C","L","P","LP"],"paddingInner":0.14,"paddingOuter":0.086},"axis":{"labels":false,"ticks":false,"title":null,"domain":true}},"xOffset":{"field":"d","type":"ordinal","scale":{"domain":[10,20,30],"paddingInner":0.4,"paddingOuter":0.2}},"y":{"field":"y","type":"quantitative","title":"% viability","scale":{"domain":[0,110],"nice":false},"axis":{"values":[0,20,40,60,80,100],"title":"% viability","domain":true,"labels":true,"ticks":true}},"detail":{"field":"id"}}},
{"data":{"name":"stars"},"transform":[{"filter":"datum.p==='At'"}],"mark":{"type":"text","fontSize":6,"color":"#555555","baseline":"middle","dy":1},"encoding":{"x":{"field":"g","type":"nominal","title":null,"scale":{"domain":["C","L","P","LP"],"paddingInner":0.14,"paddingOuter":0.086},"axis":{"labels":false,"ticks":false,"title":null,"domain":true}},"xOffset":{"field":"d","type":"ordinal","scale":{"domain":[10,20,30],"paddingInner":0.4,"paddingOuter":0.2}},"y":{"field":"y","type":"quantitative","title":"% viability","scale":{"domain":[0,110],"nice":false},"axis":{"values":[0,20,40,60,80,100],"title":"% viability","domain":true,"labels":true,"ticks":true}},"text":{"field":"t"}}},
{"data":{"name":"ticks"},"mark":{"type":"text","fontSize":7,"fontWeight":"bold","color":"#222222","baseline":"middle"},"encoding":{"x":{"field":"g","type":"nominal","title":null,"scale":{"domain":["C","L","P","LP"],"paddingInner":0.14,"paddingOuter":0.086},"axis":{"labels":false,"ticks":false,"title":null,"domain":true}},"xOffset":{"field":"d","type":"ordinal","scale":{"domain":[10,20,30],"paddingInner":0.4,"paddingOuter":0.2}},"y":{"datum":-9.5,"type":"quantitative","title":"% viability","scale":{"domain":[0,110],"nice":false},"axis":{"values":[0,20,40,60,80,100],"title":"% viability","domain":true,"labels":true,"ticks":true}},"text":{"field":"d","type":"nominal"}}}
]}
],
"config": {
"font": "Liberation Sans",
"view": {"stroke": null},
"title": {"fontSize": 10, "fontWeight": "bold", "fontStyle": "italic", "color": "#222222", "frame": "group"},
"axis": {"grid": false, "zindex": 1, "minExtent": 0, "domainColor": "#000000", "domainWidth": 1, "tickColor": "#000000", "tickSize": 3, "labelFontSize": 6.5, "labelFontWeight": "bold", "labelColor": "#222222", "labelPadding": 1, "titleFontSize": 8.5, "titleFontWeight": "bold", "titleColor": "#222222", "titlePadding": 1},
"legend": {"orient": "none", "legendX": 455, "legendY": 348, "symbolType": "M-1,-0.55H1V0.55H-1Z", "symbolSize": 100, "symbolStrokeColor": "#000000", "symbolStrokeWidth": 1, "labelFontSize": 9.5, "labelColor": "#222222", "rowPadding": 4.5, "labelOffset": 8, "labelLimit": 0}
}
}
